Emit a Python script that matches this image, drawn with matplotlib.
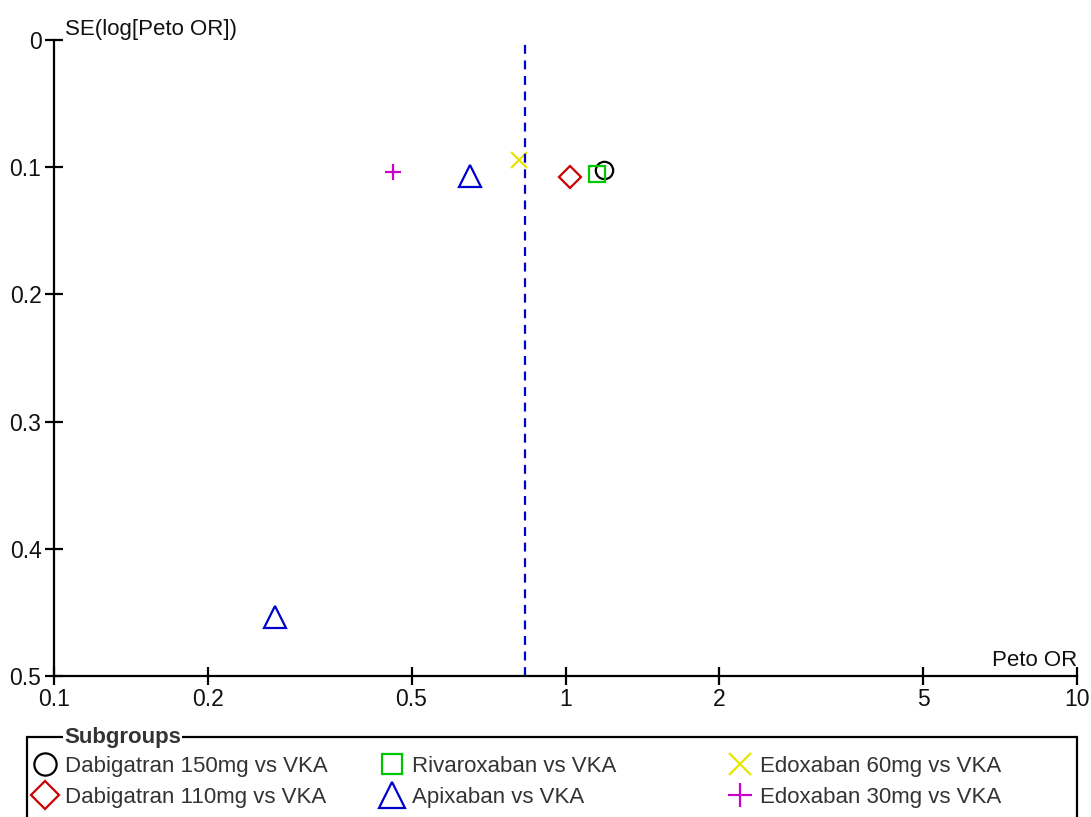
import matplotlib
matplotlib.use("Agg")
import matplotlib.pyplot as plt
from matplotlib.patches import Rectangle
from matplotlib.lines import Line2D

plt.rcParams['font.family'] = ['Liberation Sans', 'DejaVu Sans']

# Data
groups = ["Dabigatran 150mg vs VKA", "Dabigatran 110mg vs VKA", "Rivaroxaban vs VKA",
          "Apixaban vs VKA", "Edoxaban 60mg vs VKA", "Edoxaban 30mg vs VKA"]
markers = ["o", "D", "s", "^", "x", "+"]
colors = ["#000000", "#cc0000", "#00c800", "#0000cc", "#e6e600", "#cc00cc"]
peto_or = [[1.19], [1.02], [1.15], [0.65, 0.27], [0.81], [0.46]]
se_log = [[0.102], [0.108], [0.105], [0.107, 0.454], [0.094], [0.104]]
marker_sizes = [12.5, 11.5, 12, 16, 11, 12]
legend_marker_sizes = [16, 14, 15, 19, 16, 17]
pooled_or = 0.835
xticks = [0.1, 0.2, 0.5, 1, 2, 5, 10]
xticklabels = ["0.1", "0.2", "0.5", "1", "2", "5", "10"]
yticks = [0, 0.1, 0.2, 0.3, 0.4, 0.5]
yticklabels = ["0", "0.1", "0.2", "0.3", "0.4", "0.5"]

fig = plt.figure(figsize=(10.91, 8.17), dpi=100)
ax = fig.add_axes([54/1091, 1-676/817, (1077-54)/1091, (676-40)/817])

for g, m, c, xs, ys, ms in zip(groups, markers, colors, peto_or, se_log, marker_sizes):
    ax.plot(xs, ys, linestyle="none", marker=m, markersize=ms,
            markerfacecolor="none", markeredgecolor=c, markeredgewidth=1.6,
            clip_on=False, label=g)

ax.axvline(pooled_or, color="#0000cc", linestyle=(0, (4, 3)), linewidth=1.6, ymin=0, ymax=1.005)

ax.set_xscale("log")
ax.set_xlim(0.1, 10)
ax.set_ylim(0.5, 0)
ax.set_xticks(xticks)
ax.set_xticklabels(xticklabels)
ax.minorticks_off()
ax.set_yticks(yticks)
ax.set_yticklabels(yticklabels)
for s in ["top", "right"]:
    ax.spines[s].set_visible(False)
for s in ["left", "bottom"]:
    ax.spines[s].set_linewidth(1.6)
ax.tick_params(direction="inout", length=13, width=1.6, labelsize=16.5, pad=2.5,
               labelcolor="#111111")

ax.text(11/1023, 1.0, "SE(log[Peto OR])", transform=ax.transAxes, ha="left", va="bottom",
        fontsize=16, color="#111111")
ax.text(1.0, 0.008, "Peto OR", transform=ax.transAxes, ha="right", va="bottom",
        fontsize=16, color="#111111")

# Legend frame with title on border
frame = Rectangle((27/1091, -0.02), (1077-27)/1091, 1-737/817+0.02, transform=fig.transFigure,
                  fill=False, edgecolor="black", linewidth=1.6, clip_on=False)
fig.add_artist(frame)
fig.text(64/1091, 1-738/817, "Subgroups", fontsize=16, fontweight="bold", ha="left",
         va="center", color="#333333", bbox=dict(facecolor="white", edgecolor="none", pad=1.0))

proxies = [Line2D([], [], linestyle="none", marker=m, markersize=ms, markerfacecolor="none",
                  markeredgecolor=c, markeredgewidth=1.6, label=g)
           for g, m, c, ms in zip(groups, markers, colors, legend_marker_sizes)]

col_x = [32, 379, 727]
for i, cx in enumerate(col_x):
    hs = [proxies[2*i], proxies[2*i+1]]
    fig.legend(hs, [h.get_label() for h in hs], loc="upper left",
               bbox_to_anchor=(cx/1091, 1-756/817), frameon=False, fontsize=16,
               handlelength=1.2, handletextpad=0.3, labelspacing=0.45,
               borderpad=0, borderaxespad=0, labelcolor="#333333")

fig.savefig("out.png", dpi=100)
